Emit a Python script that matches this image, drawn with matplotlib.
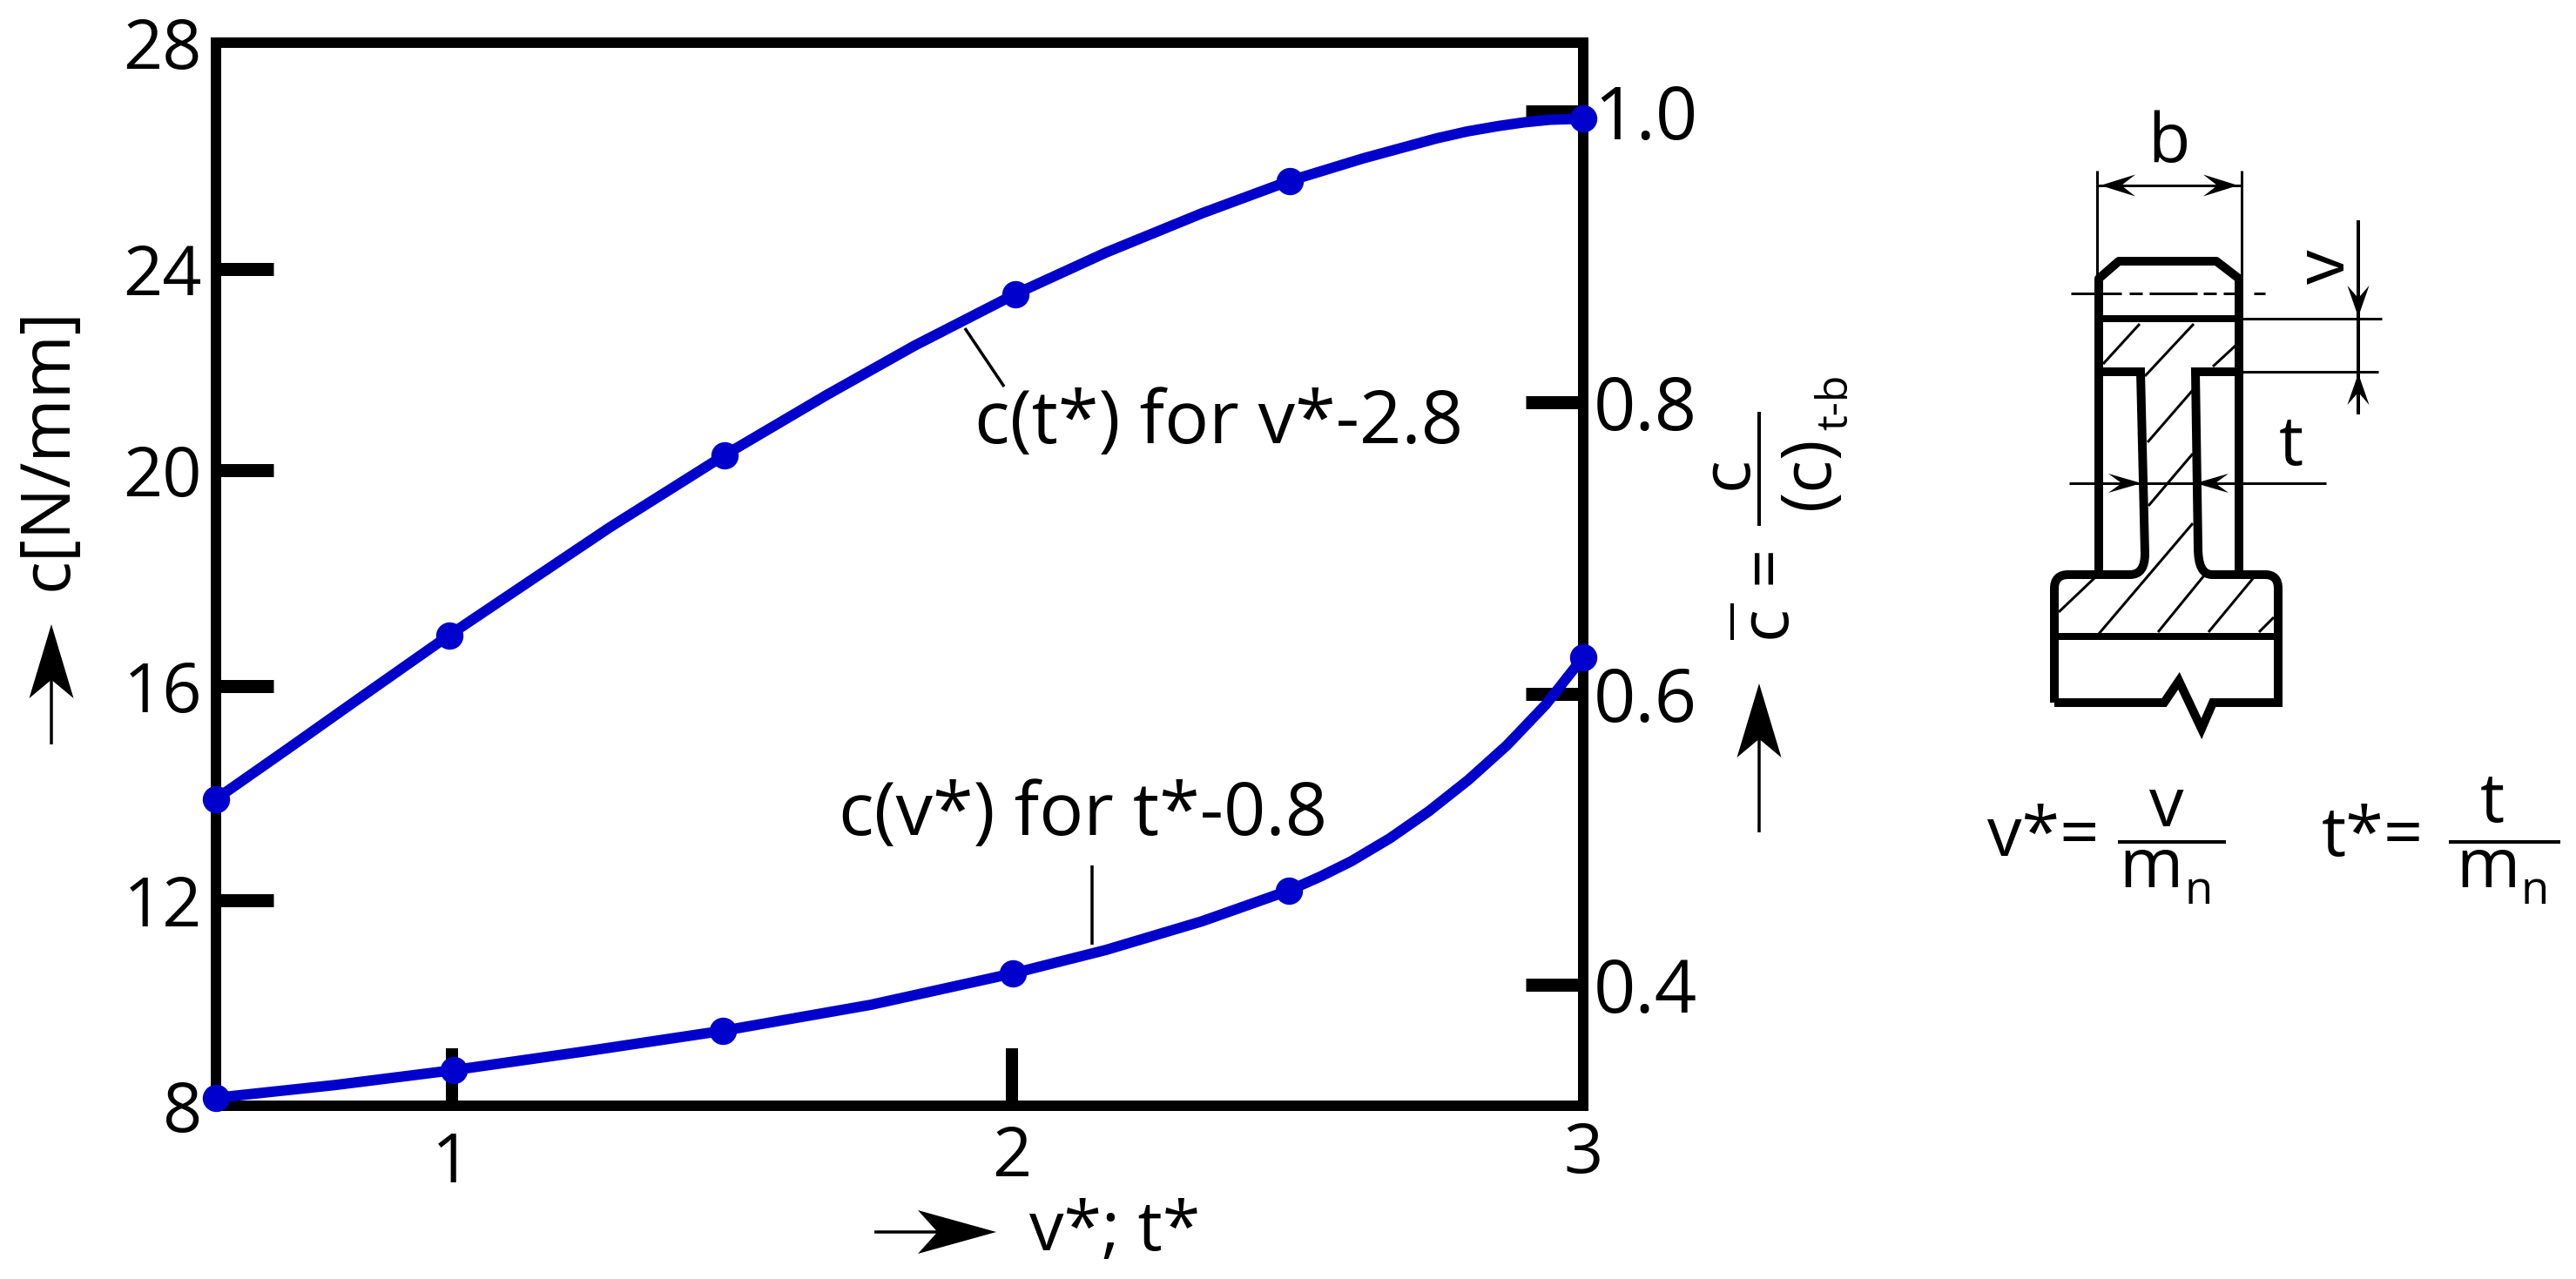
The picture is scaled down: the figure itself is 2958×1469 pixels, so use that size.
import matplotlib
matplotlib.use('Agg')
import matplotlib.pyplot as plt
from matplotlib.path import Path
from matplotlib.patches import PathPatch, Polygon

plt.rcParams['font.family'] = ['Open Sans', 'DejaVu Sans']

# curve, points are denser than the round markers
upper_x = [0.583, 0.712, 0.841, 0.995, 1.125, 1.279, 1.482, 1.664, 1.818, 1.996,
           2.156, 2.326, 2.481, 2.610, 2.741, 2.795, 2.849, 2.895, 2.941, 3.0]
upper_y = [13.77, 14.73, 15.70, 16.85, 17.78, 18.88, 20.24, 21.38, 22.30, 23.27,
           24.05, 24.79, 25.40, 25.82, 26.20, 26.33, 26.43, 26.50, 26.55, 26.57]
upper_marks = [0, 3, 6, 9, 12, 19]

lower_x = [0.583, 0.794, 1.003, 1.240, 1.479, 1.741, 1.992, 2.156, 2.326, 2.480,
           2.535, 2.590, 2.658, 2.727, 2.797, 2.865, 2.934, 3.0]
lower_y = [8.15, 8.39, 8.67, 9.03, 9.41, 9.90, 10.49, 10.93, 11.47, 12.05,
           12.31, 12.60, 13.03, 13.54, 14.13, 14.78, 15.55, 16.44]
lower_marks = [0, 2, 4, 6, 9, 17]

# the ticks are unevenly spaced in the original drawing
left_ticks = [8, 11.87, 15.90, 19.96, 23.74, 28]
left_labels = ['8', '12', '16', '20', '24', '28']
right_ticks = [0.4, 0.6, 0.8, 1.0]
right_labels = ['0.4', '0.6', '0.8', '1.0']
bottom_ticks = [1, 1.99, 3]
bottom_labels = ['1', '2', '3']

W, H = 2958, 1469
BLUE = '#0000CC'
TXT = 57
NOTE = 61


def px(n):
    return n * 0.72


fig = plt.figure(figsize=(W / 100, H / 100), dpi=100)
ax = fig.add_axes([248 / W, 1 - 1270 / H, (1818 - 248) / W, (1270 - 49) / H])
ax.set_xlim(0.583, 3.0)
ax.set_ylim(8, 28)
for s in ax.spines.values():
    s.set_linewidth(px(12))

ax.set_xticks(bottom_ticks, bottom_labels)
ax.set_yticks(left_ticks, left_labels)
ax.tick_params(axis='x', direction='in', length=px(66), width=px(14), labelsize=TXT, pad=px(28))
ax.tick_params(axis='y', direction='in', length=px(66), width=px(15), labelsize=TXT, pad=px(16))
# the digits do not sit on one line in the original
for tick, pad in zip(ax.xaxis.get_major_ticks(), [28, 21, 17]):
    tick.set_pad(px(pad))

ax2 = ax.twinx()
ax2.set_ylim(0.3169, 1.0473)
ax2.set_yticks(right_ticks, right_labels)
ax2.tick_params(axis='y', direction='in', length=px(66), width=px(15), labelsize=NOTE, pad=px(12))
for s in ax2.spines.values():
    s.set_linewidth(px(12))

# no tick marks at the frame corners, only their labels (twinx resets these)
ax.xaxis.get_major_ticks()[2].tick1line.set_visible(False)
ax.yaxis.get_major_ticks()[0].tick1line.set_visible(False)
ax.yaxis.get_major_ticks()[5].tick1line.set_visible(False)

for xs, ys, marks in [(upper_x, upper_y, upper_marks), (lower_x, lower_y, lower_marks)]:
    ax.plot(xs, ys, color=BLUE, lw=px(12), marker='o', ms=px(30), markevery=marks,
            solid_joinstyle='round', clip_on=False, zorder=5)
# curves have to lie over the twin's spines
ax.set_zorder(ax2.get_zorder() + 1)
ax.patch.set_visible(False)

# overlay in pixel coordinates for the annotations and the tooth sketch
top = fig.add_axes([0, 0, 1, 1])
top.set_xlim(0, W)
top.set_ylim(H, 0)
top.set_xticks([])
top.set_yticks([])
top.axis('off')


def thin(xs, ys, w=3.5, **kw):
    top.plot(xs, ys, color='black', lw=px(w), solid_capstyle='butt', **kw)


def label(x, y, s, size=TXT, ha='center', va='center', rot=0):
    top.text(x, y, s, fontsize=size, ha=ha, va=va, rotation=rot, color='black')


def head(tx, ty, dx, dy, length, width, notch=0.75):
    # stealth arrow head, (dx, dy) is the pointing direction
    nx, ny = -dy, dx
    pts = [(tx, ty),
           (tx - dx * length + nx * width / 2, ty - dy * length + ny * width / 2),
           (tx - dx * length * notch, ty - dy * length * notch),
           (tx - dx * length - nx * width / 2, ty - dy * length - ny * width / 2)]
    top.add_patch(Polygon(pts, closed=True, fc='black', ec='none'))


# leaders and curve labels
thin([1108, 1153], [377, 444])
thin([1253.5, 1253.5], [994, 1085])
label(1400, 487, 'c(t*) for v*-2.8', size=NOTE)
label(1244, 937, 'c(v*) for t*-0.8', size=NOTE)

# axis titles with arrows
label(1280, 1415, 'v*; t*')
thin([1004, 1100], [1415, 1415])
head(1144, 1415, 1, 0, 90, 50)
label(56, 516, 'c[N/mm]', rot=90)
thin([59, 59], [855, 760])
head(59, 717, 0, -1, 85, 51)
thin([2020, 2020], [956, 830])
head(2020, 785, 0, -1, 85, 51)

# right axis formula, rotated
label(2029, 714, 'c', rot=90)
thin([1989, 1989], [693, 735], w=4)
label(2029, 648, '=', rot=90)
label(1985, 543, 'c', rot=90)
thin([2020, 2020], [473, 604], w=4)
label(2079, 543, '(c)', rot=90)
label(2108, 462, 't-b', size=36, rot=90)

# tooth sketch
verts = [(2359, 807), (2359, 676), (2359, 660), (2375, 660), (2446, 660), (2463, 660), (2463, 636),
         (2458, 427), (2410, 427)]
codes = [Path.MOVETO, Path.LINETO, Path.CURVE3, Path.CURVE3, Path.LINETO, Path.CURVE3, Path.CURVE3,
         Path.LINETO, Path.LINETO]
top.add_patch(PathPatch(Path(verts, codes), fill=False, lw=px(10), capstyle='butt'))
verts = [(2571, 427), (2521, 427), (2524, 629), (2524, 660), (2540, 660), (2601, 660), (2616, 660), (2616, 676),
         (2616, 807), (2541, 807), (2528, 837), (2502, 782), (2485, 807), (2359, 807)]
codes = [Path.MOVETO, Path.LINETO, Path.LINETO, Path.CURVE3, Path.CURVE3, Path.LINETO, Path.CURVE3, Path.CURVE3,
         Path.LINETO, Path.LINETO, Path.LINETO, Path.LINETO, Path.LINETO, Path.LINETO]
top.add_patch(PathPatch(Path(verts, codes), fill=False, lw=px(10), joinstyle='miter'))
top.plot([2410, 2410, 2433, 2545, 2571, 2571], [660, 320, 300, 300, 320, 660], color='black', lw=px(10))
top.plot([2410, 2571], [366, 366], color='black', lw=px(8))
top.plot([2359, 2616], [731, 731], color='black', lw=px(8))

hatch = [((2415, 418), (2457, 372)), ((2463, 432), (2519, 372)), ((2541, 421), (2567, 397)),
         ((2466, 508), (2518, 448)), ((2467, 581), (2518, 521)), ((2410, 728), (2518, 601)),
         ((2364, 703), (2405, 664)), ((2478, 726), (2531, 661)), ((2536, 726), (2589, 662)),
         ((2594, 726), (2611, 709))]
for a, b in hatch:
    thin([a[0], b[0]], [a[1], b[1]], w=3)

# dimensions
thin([2408, 2408], [196, 320], w=3)
thin([2574, 2574], [196, 320], w=3)
thin([2408, 2574], [213, 213], w=3)
head(2412, 213, -1, 0, 40, 25, 0.6)
head(2570, 213, 1, 0, 40, 25, 0.6)
label(2490, 165, 'b')
thin([2378, 2436], [337, 337], w=3)
thin([2445, 2460], [337, 337], w=3)
thin([2468, 2523], [337, 337], w=3)
thin([2530, 2545], [337, 337], w=3)
thin([2553, 2570], [337, 337], w=3)
thin([2588, 2601], [337, 337], w=3)
thin([2571, 2735], [366, 366], w=3)
thin([2571, 2731], [427, 427], w=3)
thin([2708, 2708], [253, 476], w=4)
head(2708, 364, 0, 1, 36, 25, 0.6)
head(2708, 429, 0, -1, 36, 25, 0.6)
label(2671, 306, 'v', rot=90)
thin([2376, 2671], [555, 555], w=3)
head(2459, 555, 1, 0, 38, 22, 0.6)
head(2521, 555, -1, 0, 38, 22, 0.6)
label(2631, 513, 't')

# definitions under the sketch
label(2282, 962, 'v*=', ha='left')
thin([2432, 2556], [967, 967], w=4)
label(2488, 928, 'v')
label(2470, 998, 'm')
label(2525, 1024, 'n', size=38)
label(2666, 962, 't*=', ha='left')
thin([2812, 2940], [967, 967], w=4)
label(2862, 923, 't')
label(2857, 998, 'm')
label(2911, 1024, 'n', size=38)

plt.savefig('out.png', dpi=100)
